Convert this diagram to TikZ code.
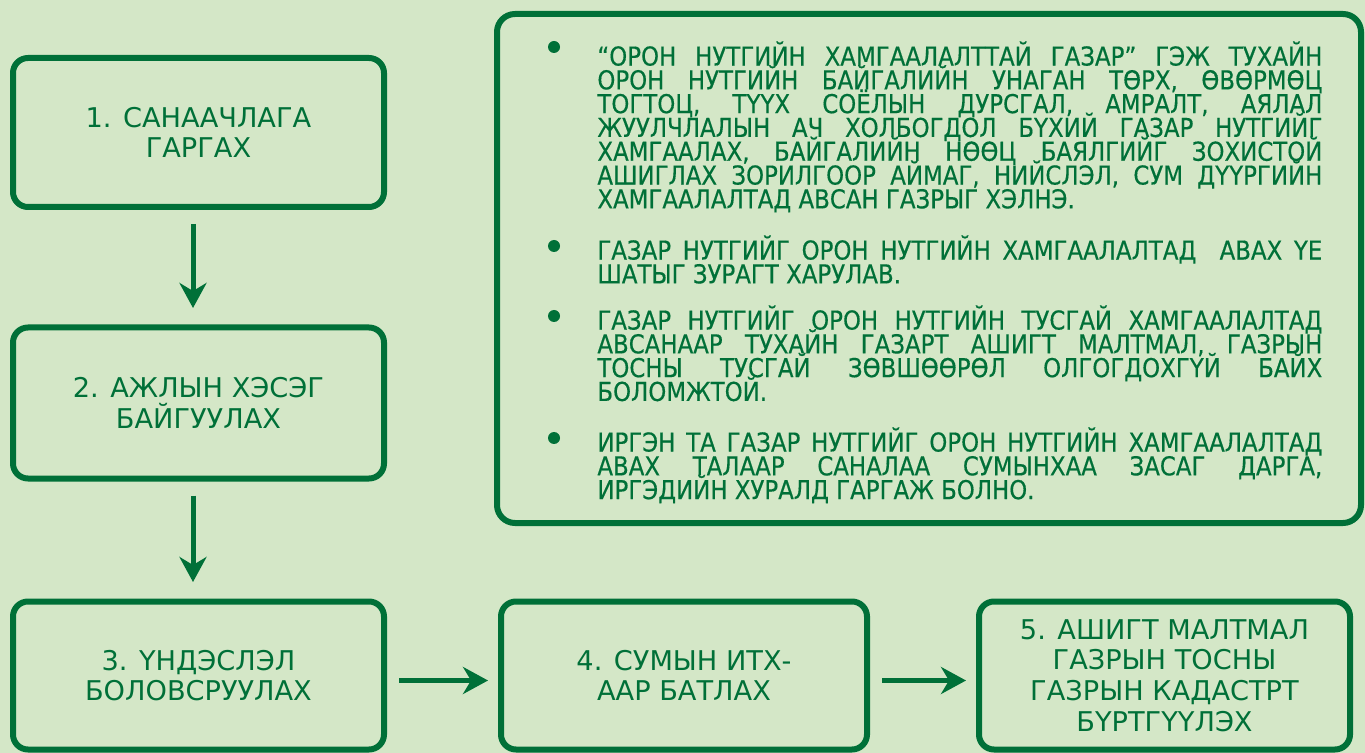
\documentclass[tikz,border=0pt]{standalone}
\usepackage{fontspec}
\setmainfont{DejaVu Sans}
\newfontfamily\notefont[FakeStretch=0.88, FakeBold=0.4]{DejaVu Sans}
\newcommand\tightlines{\lineskiplimit=-20pt\relax}
\usetikzlibrary{arrows.meta}

\definecolor{leaf}{RGB}{0,112,56}
\definecolor{meadow}{RGB}{212,231,199}

\tikzset{
  stage/.style={draw=leaf, line width=3pt, rounded corners=7.5pt, text=leaf,
    align=center, inner sep=0pt, font=\fontsize{13.6}{15.4}\selectfont},
  flow/.style={leaf, line width=2.5pt,
    -{Stealth[length=12.5pt, width=13.5pt, inset=4pt]}},
  note/.style={text=leaf, text width=362.5pt, align=justify, anchor=north west,
    inner sep=0pt, font=\notefont\fontsize{13}{11.9}\selectfont\tightlines},
  dot/.style={circle, fill=leaf, minimum size=6pt, inner sep=0pt}
}

\begin{document}
\begin{tikzpicture}[x=0.5pt, y=-0.5pt]
\fill[meadow] (0,0) rectangle (1365,753);

\node[stage, minimum width=185.5pt, minimum height=74.5pt] (s1) at (198.5,132.5) {1. САНААЧЛАГА\\ГАРГАХ};
\node[stage, minimum width=185.5pt, minimum height=75.5pt] (s2) at (198.5,403) {2. АЖЛЫН ХЭСЭГ\\БАЙГУУЛАХ};
\node[stage, minimum width=185.5pt, minimum height=74pt] (s3) at (198.5,675.5) {3. ҮНДЭСЛЭЛ\\БОЛОВСРУУЛАХ};
\node[stage, minimum width=183pt, minimum height=74pt] (s4) at (684,675.5) {4. СУМЫН ИТХ-\\ААР БАТЛАХ};
\node[stage, minimum width=185.5pt, minimum height=74pt] (s5) at (1164.5,675.5) {5. АШИГТ МАЛТМАЛ\\ГАЗРЫН ТОСНЫ\\ГАЗРЫН КАДАСТРТ\\БҮРТГҮҮЛЭХ};

\draw[flow, shorten <=7pt, shorten >=8.25pt] ([xshift=-2.75pt]s1.south) -- ([xshift=-2.75pt]s2.north);
\draw[flow, shorten <=7pt, shorten >=8.25pt] ([xshift=-2.75pt]s2.south) -- ([xshift=-2.75pt]s3.north);
\draw[flow, shorten <=6pt, shorten >=5pt] ([yshift=-2.5pt]s3.east) -- ([yshift=-2.5pt]s4.west);
\draw[flow, shorten <=6pt, shorten >=5pt] ([yshift=-2.5pt]s4.east) -- ([yshift=-2.5pt]s5.west);

%%%%%%%%%%%%%%%%%%%%%%%%%%%%%%%%%%%%%%%%

\draw[leaf, line width=3pt, rounded corners=9pt] (497,14) rectangle (1361,523);

\node[dot] (d1) at (554,47) {};
\node[dot] (d2) at (554,246) {};
\node[dot] (d3) at (554,316) {};
\node[dot] (d4) at (554,438) {};

\node[note] (p1) at (597,41) {“ОРОН НУТГИЙН ХАМГААЛАЛТТАЙ ГАЗАР” ГЭЖ ТУХАЙН\linebreak
  ОРОН НУТГИЙН БАЙГАЛИЙН УНАГАН ТӨРХ, ӨВӨРМӨЦ\linebreak
  ТОГТОЦ, ТҮҮХ СОЁЛЫН ДУРСГАЛ, АМРАЛТ, АЯЛАЛ\linebreak
  ЖУУЛЧЛАЛЫН АЧ ХОЛБОГДОЛ БҮХИЙ ГАЗАР НУТГИЙГ\linebreak
  ХАМГААЛАХ, БАЙГАЛИЙН НӨӨЦ БАЯЛГИЙГ ЗОХИСТОЙ\linebreak
  АШИГЛАХ ЗОРИЛГООР АЙМАГ, НИЙСЛЭЛ, СУМ ДҮҮРГИЙН\linebreak
  ХАМГААЛАЛТАД АВСАН ГАЗРЫГ ХЭЛНЭ.};
\node[note] (p2) at (597,235) {ГАЗАР НУТГИЙГ ОРОН НУТГИЙН ХАМГААЛАЛТАД\ \ АВАХ ҮЕ\linebreak
  ШАТЫГ ЗУРАГТ ХАРУЛАВ.};
\node[note] (p3) at (597,305) {ГАЗАР НУТГИЙГ ОРОН НУТГИЙН ТУСГАЙ ХАМГААЛАЛТАД\linebreak
  АВСАНААР ТУХАЙН ГАЗАРТ АШИГТ МАЛТМАЛ, ГАЗРЫН\linebreak
  ТОСНЫ ТУСГАЙ ЗӨВШӨӨРӨЛ ОЛГОГДОХГҮЙ БАЙХ\linebreak
  БОЛОМЖТОЙ.};
\node[note] (p4) at (597,427) {ИРГЭН ТА ГАЗАР НУТГИЙГ ОРОН НУТГИЙН ХАМГААЛАЛТАД\linebreak
  АВАХ ТАЛААР САНАЛАА СУМЫНХАА ЗАСАГ ДАРГА,\linebreak
  ИРГЭДИЙН ХУРАЛД ГАРГАЖ БОЛНО.};
\end{tikzpicture}
\end{document}
